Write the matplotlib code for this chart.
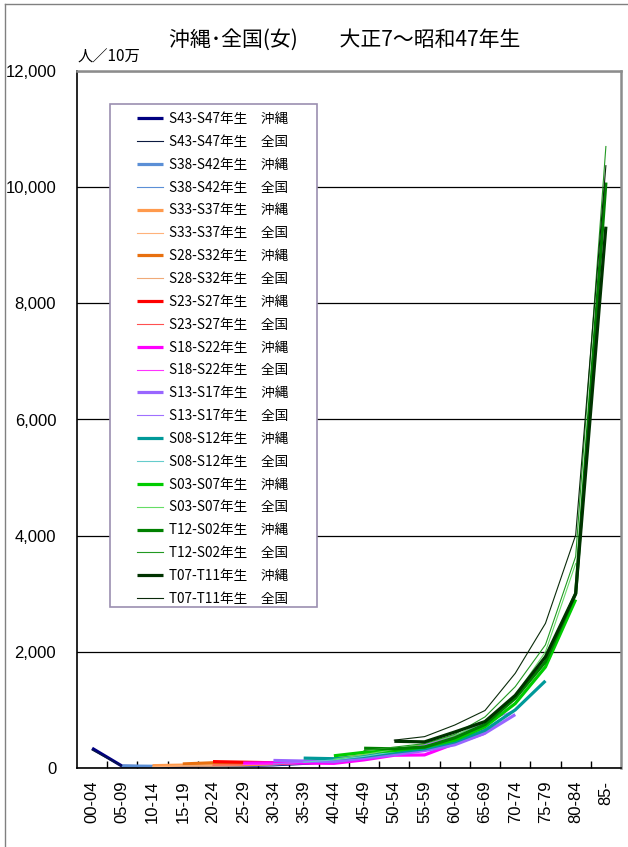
import matplotlib
matplotlib.use("Agg")
import matplotlib.pyplot as plt
from matplotlib.lines import Line2D
from matplotlib.patches import Rectangle

plt.rcParams['font.family'] = ['Noto Sans CJK JP', 'DejaVu Sans']

# age groups on the x axis
ages = ['00-04', '05-09', '10-14', '15-19', '20-24', '25-29', '30-34', '35-39', '40-44',
        '45-49', '50-54', '55-59', '60-64', '65-69', '70-74', '75-79', '80-84', '85-']

# birth cohorts (legend order) and the age group each one starts at
cohorts = ['S43-S47', 'S38-S42', 'S33-S37', 'S28-S32', 'S23-S27', 'S18-S22',
           'S13-S17', 'S08-S12', 'S03-S07', 'T12-S02', 'T07-T11']
start_age = [0, 1, 2, 3, 4, 5, 6, 7, 8, 9, 10]

# death rate per 100,000 (female) - Okinawa
oki_values = [
    [340, 30, 20, 30, 40, 45, 55, 80, 110],
    [35, 30, 40, 45, 50, 65, 90, 130, 190],
    [40, 50, 50, 55, 75, 100, 150, 220, 310],
    [70, 90, 70, 80, 100, 140, 200, 280, 400],
    [110, 100, 90, 100, 130, 180, 250, 330, 470],
    [85, 90, 85, 80, 140, 220, 225, 420, 600],
    [130, 120, 110, 170, 230, 300, 400, 600, 920],
    [170, 160, 200, 270, 330, 450, 650, 1000, 1500],
    [210, 270, 300, 360, 480, 710, 1110, 1740, 2900],
    [340, 330, 360, 520, 750, 1200, 1830, 3000, 10080],
    [460, 450, 620, 800, 1250, 1915, 3005, 9320],
]

# death rate per 100,000 (female) - whole country
nat_values = [
    [310, 25, 15, 30, 40, 50, 60, 85, 120],
    [25, 18, 35, 45, 55, 75, 110, 160, 210],
    [20, 40, 45, 55, 75, 110, 160, 220, 280],
    [40, 50, 55, 70, 100, 150, 220, 300, 380],
    [50, 55, 70, 100, 150, 210, 290, 400, 560],
    [60, 70, 100, 150, 200, 280, 380, 550, 680],
    [70, 100, 150, 210, 300, 400, 560, 780, 1000],
    [100, 140, 200, 280, 380, 520, 720, 1100, 1720],
    [150, 230, 320, 420, 560, 800, 1250, 2000, 3520],
    [300, 360, 420, 580, 880, 1400, 2120, 3640, 10700],
    [480, 540, 740, 990, 1630, 2490, 4010, 10370],
]

oki_colors = ['#000080', '#5b8fd6', '#ff9a4d', '#e8700f', '#ff0000', '#ff00ff',
              '#9966ff', '#009999', '#00cc00', '#008000', '#003300']
nat_colors = ['#0b1a40', '#5b8fd6', '#ffb27a', '#f0aa78', '#ff5050', '#ff33ff',
              '#a070ff', '#66cccc', '#66dd66', '#229922', '#0a2a0a']

fig = plt.figure(figsize=(6.28, 8.47), dpi=100)
ax = fig.add_axes([77 / 628, 1 - 768 / 847, 544 / 628, 697 / 847])

handles = []
labels = []
for i, name in enumerate(cohorts):
    xo = list(range(start_age[i], start_age[i] + len(oki_values[i])))
    xn = list(range(start_age[i], start_age[i] + len(nat_values[i])))
    h1, = ax.plot(xo, oki_values[i], color=oki_colors[i], lw=2.3, solid_capstyle='butt')
    h2, = ax.plot(xn, nat_values[i], color=nat_colors[i], lw=0.8)
    handles += [h1, h2]
    labels += [name + '年生\u3000沖縄', name + '年生\u3000全国']

ax.set_xlim(-0.5, len(ages) - 0.5)
ax.set_ylim(0, 12000)
ax.set_yticks(range(0, 12001, 2000))
ax.set_yticklabels([f'{v:,}' for v in range(0, 12001, 2000)],
                   fontsize=12, family=['Liberation Sans', 'DejaVu Sans'])
ax.tick_params(axis='y', length=0, pad=15)
ax.set_xticks(range(len(ages)))
ax.set_xticklabels(ages, rotation=90, fontsize=12, family=['Liberation Sans', 'DejaVu Sans'])
ax.tick_params(axis='x', which='major', length=0, pad=9)
ax.set_xticks([k + 0.5 for k in range(len(ages) - 1)], minor=True)
ax.tick_params(axis='x', which='minor', direction='in', length=5, width=1, color='black')

ax.grid(axis='y', color='black', lw=0.9)
ax.set_axisbelow(True)
for s in ['left', 'bottom']:
    ax.spines[s].set_color('black')
    ax.spines[s].set_linewidth(1.2)
for s in ['top', 'right']:
    ax.spines[s].set_color('#8c8c8c')
    ax.spines[s].set_linewidth(1.8)

fig.text(345 / 628, 1 - 40 / 847, '沖縄･全国(女)\u3000\u3000大正7～昭和47年生',
         ha='center', va='center', fontsize=15)
fig.text(78 / 628, 1 - 57 / 847, '人／10万', ha='left', va='center', fontsize=11)

# legend with a hand-placed frame
fig.patches.append(Rectangle((110 / 628, 1 - 607 / 847), 207 / 628, 503 / 847,
                             transform=fig.transFigure, facecolor='white',
                             edgecolor='#9b8fb0', lw=1.2, zorder=3))
leg = fig.legend(handles, labels, loc='upper left', bbox_to_anchor=(133 / 628, 1 - 108 / 847),
                 frameon=False, fontsize=9.8, handlelength=1.9, handletextpad=0.45,
                 labelspacing=0.65, borderaxespad=0, borderpad=0.3)
leg.set_zorder(4)

# outer chart border (left and top only visible)
fig.add_artist(Line2D([5 / 628, 5 / 628], [0, 1 - 4 / 847], transform=fig.transFigure,
                      color='#808080', lw=1))
fig.add_artist(Line2D([5 / 628, 1], [1 - 4 / 847, 1 - 4 / 847], transform=fig.transFigure,
                      color='#808080', lw=1))

fig.savefig('out.png', dpi=100)
